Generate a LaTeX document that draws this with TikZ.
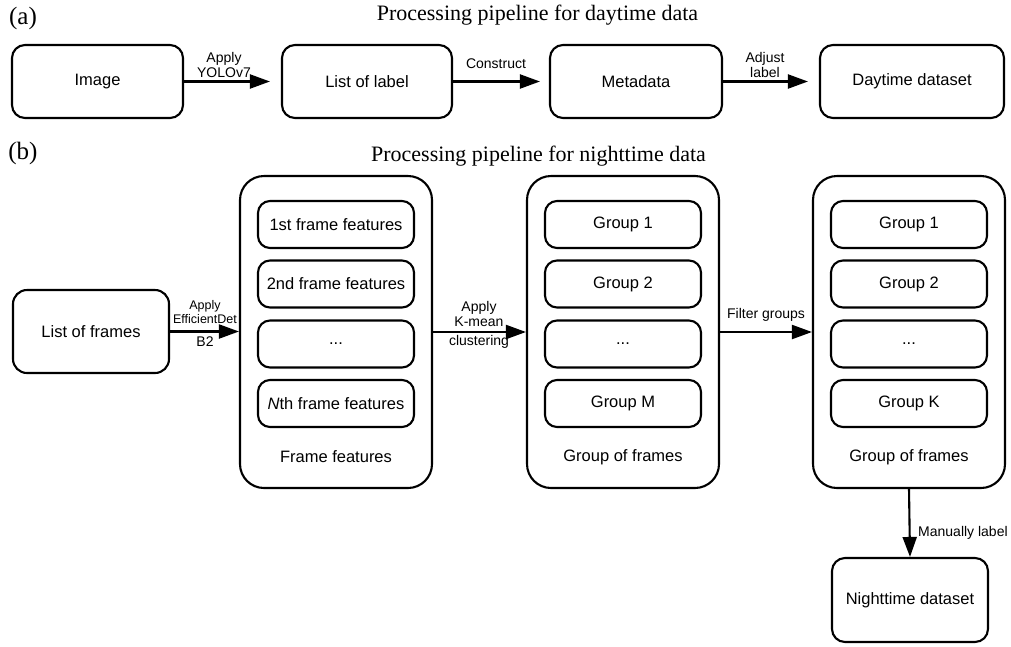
\documentclass[tikz,border=0pt]{standalone}
\usepackage{fontspec}
\newfontfamily\sansfont{Liberation Sans}
\newfontfamily\seriffont{Liberation Serif}
\usetikzlibrary{arrows.meta}
\begin{document}
\begin{tikzpicture}[x=1pt,y=-1pt,
  box/.style={draw, line width=2.1pt, rounded corners=13pt, inner sep=0pt,
    font=\sansfont\fontsize{16.5}{19}\selectfont, align=center},
  rowbox/.style={box, minimum height=73pt},
  bigbox/.style={draw, line width=2.1pt, rounded corners=24pt, inner sep=0pt,
    minimum width=192pt, minimum height=312pt},
  item/.style={box, rounded corners=12pt, minimum width=156pt, minimum height=47pt},
  flow/.style={line width=2.1pt, -{Triangle[length=20pt,width=14pt]}},
  elabel/.style={font=\sansfont\fontsize{14}{15.5}\selectfont, align=center, inner sep=0pt},
  inlabel/.style={font=\sansfont\fontsize{16.5}{19}\selectfont, inner sep=0pt},
  title/.style={font=\seriffont\fontsize{22}{26}\selectfont, inner sep=0pt, anchor=base},
  tag/.style={font=\seriffont\fontsize{25}{29}\selectfont, inner sep=0pt}
]
\useasboundingbox (0,0) rectangle (1011,646);

% ---------- (a) daytime pipeline ----------
\node[tag] (tagA) at (23,18) {(a)};
\node[title] (titleA) at (537.5,20) {Processing pipeline for daytime data};

\node[rowbox, minimum width=171pt] (img)  at (97.5,81.5) {Image};
\node[rowbox, minimum width=170pt] (lst)  at (367,81.5)  {List of label};
\node[rowbox, minimum width=172pt] (meta) at (636,81.5)  {Metadata};
\node[rowbox, minimum width=184pt] (day)  at (912,81.5)  {Daytime dataset};

\draw[flow, shorten >=11pt] (img) -- (lst);
\draw[flow, shorten >=9pt]  (lst) -- (meta);
\draw[flow, shorten >=11pt] (meta) -- (day);

\node[elabel] (lblA1) at (224,65) {Apply\\YOLOv7};
\node[elabel] (lblA2) at (496,64) {Construct};
\node[elabel] (lblA3) at (765,65) {Adjust\\label};

% ---------- (b) nighttime pipeline ----------
\node[tag] (tagB) at (23,153) {(b)};
\node[title] (titleB) at (538.5,161) {Processing pipeline for nighttime data};

\node[box, minimum width=156pt, minimum height=83pt, rounded corners=14pt] (lof) at (91,331.5) {List of frames};

% frame features
\node[bigbox] (big1) at (336,332) {};
\node[item] (f1) at (336,224.5) {1st frame features};
\node[item] (f2) at (336,284)   {2nd frame features};
\node[item] (f3) at (336,344)   {...};
\node[item] (f4) at (336,403.5) {\textit{N}th frame features};
\node[inlabel] (cap1) at (336,457) {Frame features};

% clustered groups
\node[bigbox] (big2) at (623,332) {};
\node[item] (g1) at (623,224.5) {Group 1};
\node[item] (g2) at (623,284)   {Group 2};
\node[item] (g3) at (623,344)   {...};
\node[item] (g4) at (623,403.5) {Group M};
\node[inlabel] (cap2) at (623,457) {Group of frames};

% filtered groups
\node[bigbox] (big3) at (909,332) {};
\node[item] (k1) at (909,224.5) {Group 1};
\node[item] (k2) at (909,284)   {Group 2};
\node[item] (k3) at (909,344)   {...};
\node[item] (k4) at (909,403.5) {Group K};
\node[inlabel] (cap3) at (909,457) {Group of frames};

\node[box, minimum width=156pt, minimum height=84pt] (night) at (910,600) {Nighttime dataset};

\draw[flow] (lof.east) -- (lof.east -| big1.west);
\draw[flow] (big1) -- (big2);
\draw[flow] (big2) -- (big3);
\draw[flow] (big3.south) -- (night.north);

\node[elabel, font=\sansfont\fontsize{12.5}{14.5}\selectfont] (lblB1) at (205,312) {Apply\\EfficientDet};
\node[elabel] (lblB1b) at (205,342) {B2};
\node[elabel] (lblB2) at (479,314) {Apply\\K-mean};
\node[elabel] (lblB2b) at (479,342) {clustering};
\node[elabel] (lblB3) at (766,315) {Filter groups};
\node[elabel, anchor=west] (lblB4) at (918,533) {Manually label};
\end{tikzpicture}
\end{document}
